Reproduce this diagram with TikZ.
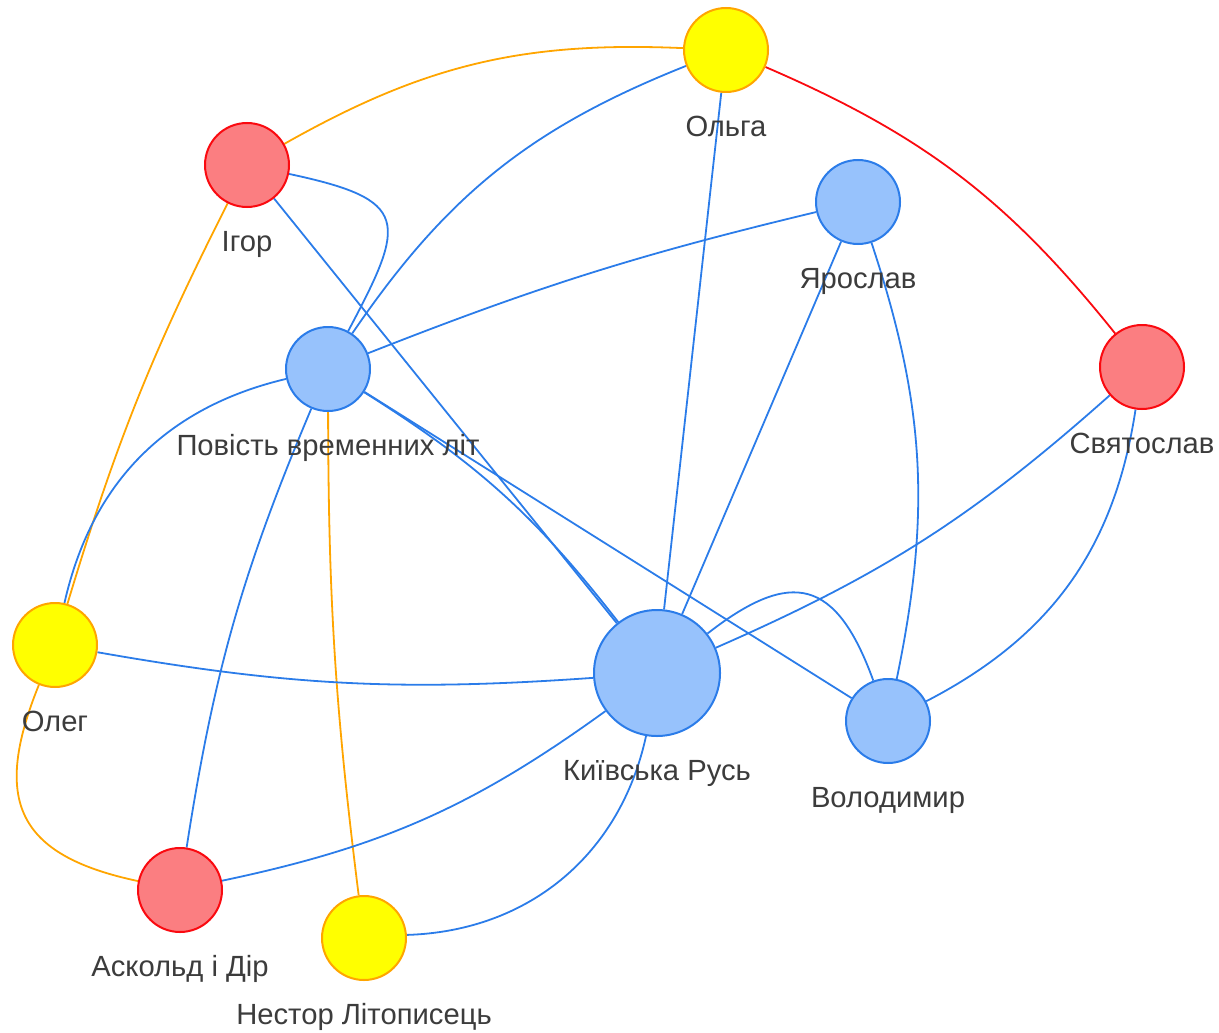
\documentclass[tikz,border=0pt]{standalone}
\usepackage{fontspec}
\setmainfont{Liberation Sans}
\usetikzlibrary{positioning,backgrounds}
\definecolor{bluefill}{HTML}{97C2FC}
\definecolor{blueline}{HTML}{2B7CE9}
\definecolor{redfill}{HTML}{FB7E81}
\definecolor{redline}{HTML}{FA0A10}
\definecolor{yelfill}{HTML}{FFFF00}
\definecolor{yelline}{HTML}{FFA500}
\definecolor{txtgray}{HTML}{3C3C3C}
\tikzset{
  person/.style={circle,minimum size=42pt,inner sep=0pt,line width=1pt},
  bluenode/.style={person,fill=bluefill,draw=blueline},
  rednode/.style={person,fill=redfill,draw=redline},
  yelnode/.style={person,fill=yelfill,draw=yelline},
  lbl/.style={inner sep=0pt,text=txtgray,font=\fontsize{14.6}{16}\selectfont,text height=10.4pt,text depth=3pt},
  bluelink/.style={blueline,line width=0.9pt},
  orangelink/.style={yelline,line width=0.9pt},
  redlink/.style={redline,line width=0.9pt}
}
\begin{document}
\begin{tikzpicture}[x=0.5pt,y=0.5pt]
\useasboundingbox (0,0) rectangle (1219,-1032);
		\node[yelnode] (olga) at (726,-50) {};
		\node[rednode] (igor) at (247,-165) {};
		\node[bluenode] (yaroslav) at (858,-202) {};
		\node[rednode] (svyatoslav) at (1142,-367) {};
		\node[bluenode] (povist) at (328,-369) {};
		\node[yelnode] (oleg) at (55,-645) {};
		\node[bluenode,minimum size=63pt] (kyiv) at (657,-673) {};
		\node[bluenode] (volodymyr) at (888,-721) {};
		\node[rednode] (askold) at (180,-890) {};
		\node[yelnode] (nestor) at (364,-938) {};
		\node[lbl,below=11pt of olga] (olgat) {Ольга};
		\node[lbl,below=11pt of igor] (igort) {Ігор};
		\node[lbl,below=11pt of yaroslav] (yaroslavt) {Ярослав};
		\node[lbl,below=11pt of svyatoslav] (svyatoslavt) {Святослав};
		\node[lbl,below=11pt of povist] (povistt) {Повість временних літ};
		\node[lbl,below=11pt of oleg] (olegt) {Олег};
		\node[lbl,below=11pt of kyiv] (kyivt) {Київська Русь};
		\node[lbl,below=11pt of volodymyr] (volodymyrt) {Володимир};
		\node[lbl,below=11pt of askold] (askoldt) {Аскольд і Дір};
		\node[lbl,below=11pt of nestor] (nestort) {Нестор Літописець};
\begin{scope}[on background layer]
		\draw[orangelink] (igor) to[bend left=16] (olga);
		\draw[redlink] (olga) to[bend left=14] (svyatoslav);
		\draw[bluelink] (olga) to[bend right=17] (povist);
		\draw[bluelink] (olga) -- (kyiv);
		\draw[bluelink] (igor) to[out=-12,in=62,looseness=1.9] (povist);
		\draw[bluelink] (igor) -- (kyiv);
		\draw[orangelink] (igor) to[bend right=5] (oleg);
		\draw[bluelink] (yaroslav) to[bend right=4] (povist);
		\draw[bluelink] (yaroslav) -- (kyiv);
		\draw[bluelink] (yaroslav) to[bend left=15] (volodymyr);
		\draw[bluelink] (svyatoslav) to[bend left=9] (kyiv);
		\draw[bluelink] (svyatoslav) to[bend left=27] (volodymyr);
		\draw[bluelink] (povist) to[bend right=32] (oleg);
		\draw[bluelink] (povist) to[bend left=10] (kyiv);
		\draw[bluelink] (povist) -- (volodymyr);
		\draw[bluelink] (povist) to[bend right=7] (askold);
		\draw[orangelink] (povist) to[bend right=3.5] (nestor);
		\draw[bluelink] (oleg) to[bend right=7] (kyiv);
		\draw[orangelink] (oleg) to[out=248,in=168,looseness=1.45] (askold);
		\draw[bluelink] (kyiv) to[bend left=12] (askold);
		\draw[bluelink] (kyiv) to[bend left=38] (nestor);
		\draw[bluelink] (kyiv) to[out=38,in=110,looseness=1.6] (volodymyr);
\end{scope}
\end{tikzpicture}
\end{document}
